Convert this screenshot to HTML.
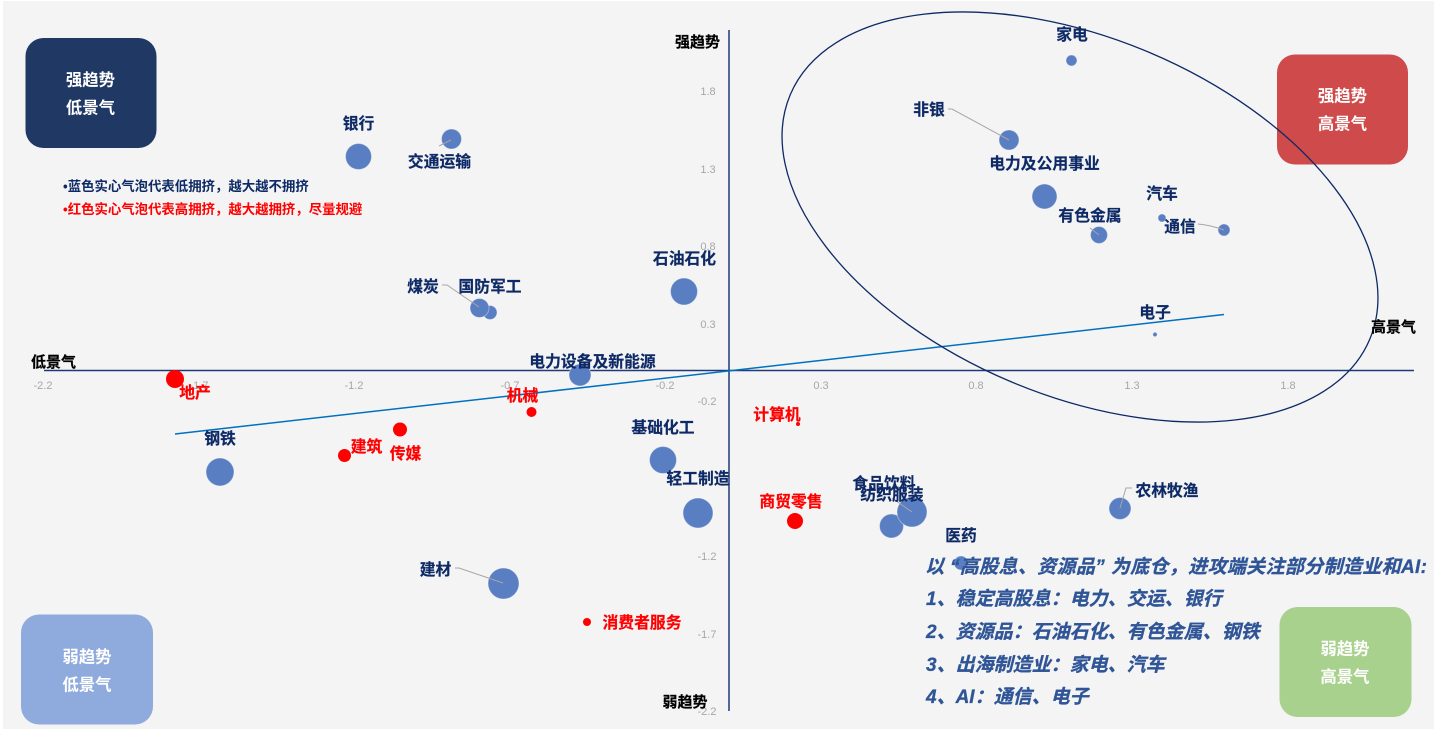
<!DOCTYPE html>
<html><head><meta charset="utf-8"><style>
html,body{margin:0;padding:0;background:#fff;width:1434px;height:729px;overflow:hidden}
svg{display:block}
text{font-family:"Liberation Sans","Noto Sans CJK SC",sans-serif}
.l{font-size:15.8px;font-weight:700;fill:#0e2a66;stroke:#0e2a66;stroke-width:.2;text-anchor:middle}
.r{font-size:15.8px;font-weight:700;fill:#ff0000;stroke:#ff0000;stroke-width:.2;text-anchor:middle}
.k{font-size:15px;font-weight:700;fill:#000;stroke:#000;stroke-width:.2;text-anchor:middle}
.t{font-size:11px;fill:#a6a6a6;text-anchor:middle}
.w{font-size:16.4px;font-weight:700;fill:#fff;text-anchor:middle}
.i{font-size:19px;font-weight:700;font-style:italic;fill:#2f5597;stroke:#2f5597;stroke-width:.3}
.b{fill:#5a7ec2;stroke:#fff;stroke-opacity:.35;stroke-width:1}
.c{stroke:#a6a6a6;stroke-width:1;fill:none}
</style></head><body>
<svg width="1434" height="729" viewBox="0 0 1434 729" xmlns="http://www.w3.org/2000/svg">
<rect x="3" y="1" width="1431" height="728" fill="#f4f4f4"/>
<rect x="25.500" y="38" width="131" height="110" rx="18" fill="#1f3864"/>
<rect x="1277" y="54.500" width="131" height="110" rx="18" fill="#cf4a4a"/>
<rect x="21" y="614.500" width="132" height="110" rx="18" fill="#8faadc"/>
<rect x="1279.500" y="607" width="132" height="110" rx="18" fill="#a9d18e"/>
<text class="w" x="90.500" y="85.500">强趋势</text><text class="w" x="90.500" y="113.500">低景气</text>
<text class="w" x="1342.500" y="101.500">强趋势</text><text class="w" x="1342.500" y="129.500">高景气</text>
<text class="w" x="87" y="662.500">弱趋势</text><text class="w" x="87" y="690.500">低景气</text>
<text class="w" x="1345" y="654.500">弱趋势</text><text class="w" x="1345" y="682.500">高景气</text>
<text x="63" y="191" font-size="13.4px" font-weight="700" fill="#0e2a66">•蓝色实心气泡代表低拥挤，越大越不拥挤</text>
<text x="63" y="214" font-size="13.4px" font-weight="700" fill="#ff0000">•红色实心气泡代表高拥挤，越大越拥挤，尽量规避</text>

<line x1="44" y1="370.500" x2="1414" y2="370.500" stroke="#1f3a7a" stroke-width="1.500"/>
<line x1="729" y1="30" x2="729" y2="711" stroke="#1f3a7a" stroke-width="1.500"/>
<line x1="175" y1="434" x2="1224" y2="314.500" stroke="#0070c0" stroke-width="1.500"/>
<ellipse cx="1080" cy="217" rx="314.500" ry="178.600" transform="rotate(22.900 1080 217)" fill="none" stroke="#0e2a66" stroke-width="1.300"/>

<g>
<text class="t" x="43" y="389">-2.2</text><text class="t" x="199" y="389">-1.7</text><text class="t" x="354" y="389">-1.2</text><text class="t" x="510" y="389">-0.7</text><text class="t" x="665" y="389">-0.2</text><text class="t" x="821" y="389">0.3</text><text class="t" x="976" y="389">0.8</text><text class="t" x="1132" y="389">1.3</text><text class="t" x="1288" y="389">1.8</text>
<text class="t" x="708" y="95">1.8</text><text class="t" x="708" y="173">1.3</text><text class="t" x="708" y="250">0.8</text><text class="t" x="708" y="328">0.3</text><text class="t" x="707" y="405">-0.2</text><text class="t" x="707" y="560">-1.2</text><text class="t" x="707" y="638">-1.7</text><text class="t" x="707" y="715">-2.2</text>
</g>

<circle class="b" cx="358.500" cy="156.500" r="13"/>
<circle class="b" cx="451.500" cy="139" r="10"/>
<circle class="b" cx="490" cy="312.500" r="7"/>
<circle class="b" cx="479.500" cy="308" r="9.500"/>
<circle class="b" cx="684" cy="291.500" r="13.500"/>
<circle class="b" cx="580" cy="375" r="11"/>
<circle class="b" cx="220" cy="472" r="14"/>
<circle class="b" cx="663" cy="460" r="13.500"/>
<circle class="b" cx="698" cy="513" r="15"/>
<circle class="b" cx="503.500" cy="583.500" r="15.500"/>
<circle class="b" cx="891.500" cy="526" r="12"/>
<circle class="b" cx="912" cy="512" r="15"/>
<circle class="b" cx="961" cy="563" r="7"/>
<circle class="b" cx="1120" cy="508.500" r="11"/>
<circle class="b" cx="1071.500" cy="60.500" r="5.500"/>
<circle class="b" cx="1009" cy="140" r="10"/>
<circle class="b" cx="1044.500" cy="196.500" r="12.500"/>
<circle class="b" cx="1099" cy="235" r="8.500"/>
<circle class="b" cx="1162" cy="218" r="4"/>
<circle class="b" cx="1224" cy="230" r="6"/>
<circle class="b" cx="1155" cy="334.500" r="2.200"/>

<path class="c" d="M439 146 L451 140"/>
<path class="c" d="M442 285 L447 285 L479 307"/>
<path class="c" d="M948 109 L952 109 L1009 140"/>
<path class="c" d="M1090 228 L1099 235"/>
<path class="c" d="M1198 224 Q1210 225 1224 230"/>
<path class="c" d="M455 568 L459 568 L503 583"/>
<path class="c" d="M892 498 L912 512"/>
<path class="c" d="M1132 488 L1126 488 L1120 508"/>

<circle cx="175" cy="379" r="9" fill="#ff0000"/>
<circle cx="400" cy="429.500" r="7" fill="#ff0000"/>
<circle cx="344.500" cy="455.500" r="6.500" fill="#ff0000"/>
<circle cx="531.500" cy="412" r="5" fill="#ff0000"/>
<circle cx="798" cy="424" r="2" fill="#ff0000"/>
<circle cx="795" cy="521" r="8" fill="#ff0000"/>
<circle cx="587" cy="622" r="4" fill="#ff0000"/>

<text class="l" x="358.500" y="129">银行</text>
<text class="l" x="439.500" y="167">交通运输</text>
<text class="l" x="423" y="292">煤炭</text>
<text class="l" x="490" y="292">国防军工</text>
<text class="l" x="684.500" y="264">石油石化</text>
<text class="l" x="592.500" y="367">电力设备及新能源</text>
<text class="l" x="220" y="444">钢铁</text>
<text class="l" x="663" y="433">基础化工</text>
<text class="l" x="698" y="484">轻工制造</text>
<text class="l" x="435.500" y="575">建材</text>
<text class="l" x="884" y="489">食品饮料</text>
<text class="l" x="892" y="500">纺织服装</text>
<text class="l" x="961" y="541">医药</text>
<text class="l" x="1167" y="496">农林牧渔</text>
<text class="l" x="1072" y="40">家电</text>
<text class="l" x="929" y="115">非银</text>
<text class="l" x="1044.500" y="169">电力及公用事业</text>
<text class="l" x="1090" y="221">有色金属</text>
<text class="l" x="1162" y="199">汽车</text>
<text class="l" x="1180" y="232">通信</text>
<text class="l" x="1155" y="318">电子</text>

<text class="r" x="195" y="398">地产</text>
<text class="r" x="366.500" y="452">建筑</text>
<text class="r" x="405.500" y="459">传媒</text>
<text class="r" x="522.500" y="401">机械</text>
<text class="r" x="777" y="420">计算机</text>
<text class="r" x="791" y="507">商贸零售</text>
<text class="r" x="642" y="628">消费者服务</text>

<text class="k" x="53.500" y="367">低景气</text>
<text class="k" x="1393.500" y="332">高景气</text>
<text class="k" x="697.500" y="47">强趋势</text>
<text class="k" x="685" y="707">弱趋势</text>

<text class="i" x="925" y="573" textLength="502" lengthAdjust="spacing">以 “高股息、资源品” 为底仓，进攻端关注部分制造业和AI:</text>
<text class="i" x="926" y="605">1、稳定高股息：电力、交运、银行</text>
<text class="i" x="926" y="638">2、资源品：石油石化、有色金属、钢铁</text>
<text class="i" x="926" y="671">3、出海制造业：家电、汽车</text>
<text class="i" x="926" y="703">4、AI：通信、电子</text>
</svg>
</body></html>
